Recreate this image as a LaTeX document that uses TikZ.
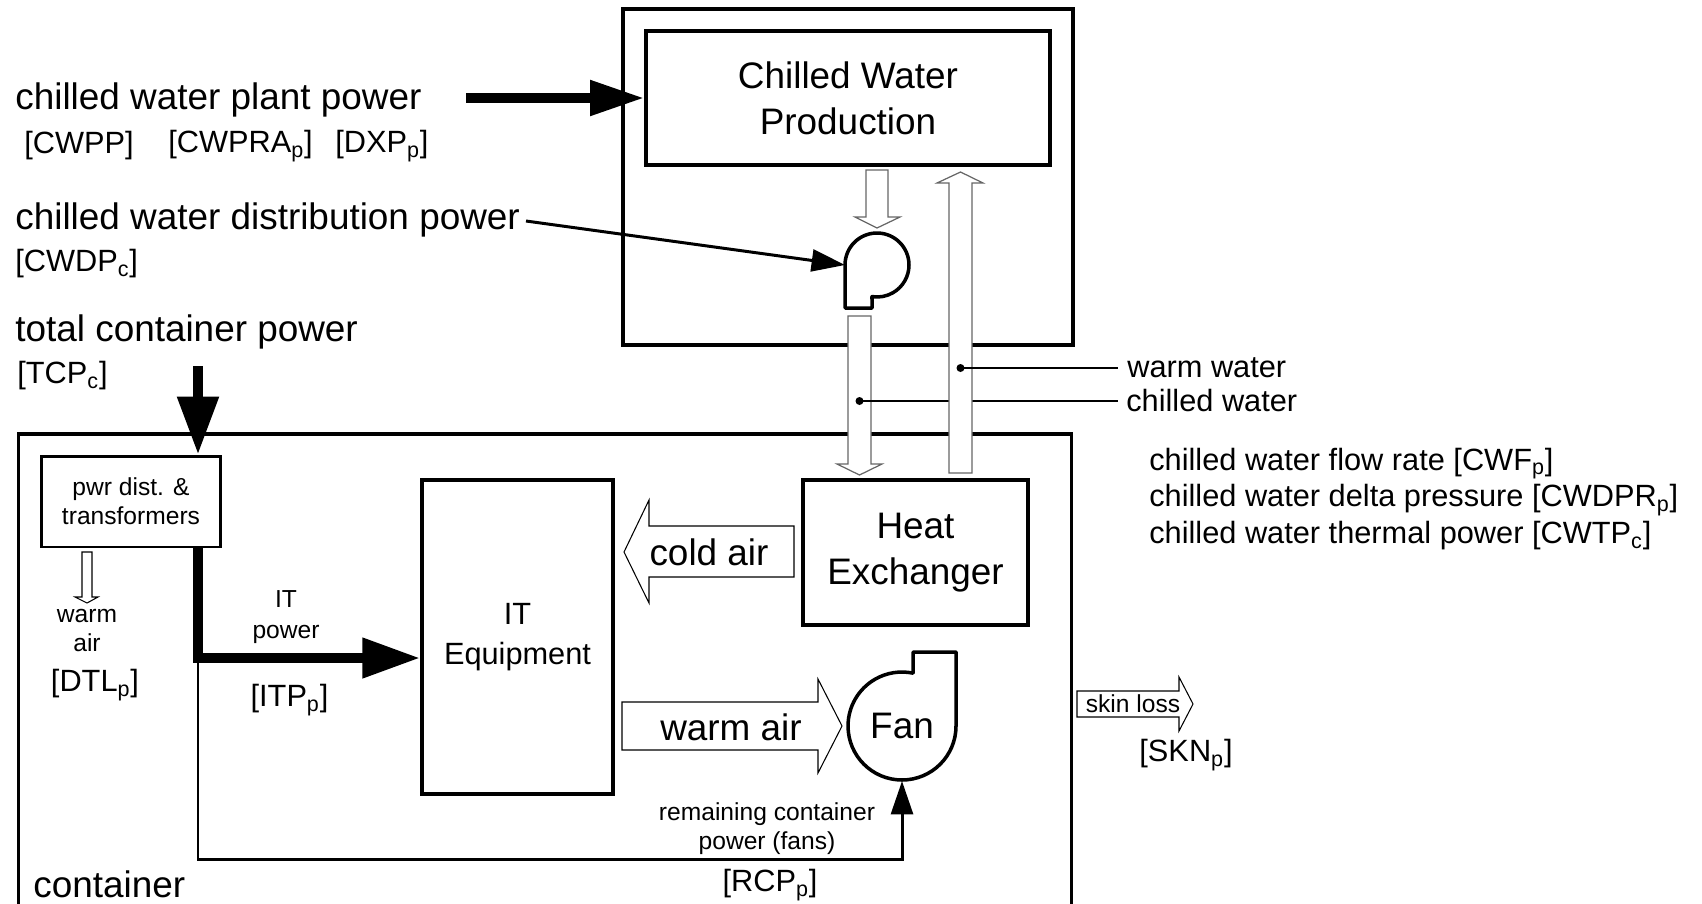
\documentclass[tikz,border=0pt]{standalone}
\usepackage{fontspec}
\setmainfont{Liberation Sans}
\usetikzlibrary{arrows.meta, positioning}

\begin{document}
\begin{tikzpicture}[
    x=0.02cm, y=-0.02cm,
    box/.style={rectangle, draw=black, line width=1.8pt, inner sep=0pt, text centered},
    bigtext/.style={font=\fontsize{21}{26}\selectfont, align=center, inner sep=0pt},
    midtext/.style={font=\fontsize{17.5}{21.3}\selectfont, align=left, inner sep=0pt},
    smalltext/.style={font=\fontsize{14}{16.5}\selectfont, align=center, inner sep=0pt},
    airflow/.style={draw=black, line width=0.6pt, fill=white},
    waterflow/.style={draw=black!60, line width=0.7pt, fill=white},
    fatarrow/.style={line width=5.7pt, -{Triangle[length=31pt, width=19pt]}},
    itarrow/.style={line width=6.2pt, line join=miter, -{Triangle[length=33pt, width=21.5pt]}},
    thinarrow/.style={line width=1.7pt, -{Triangle[length=19pt, width=12.5pt]}},
    leader/.style={line width=1pt},
    housing/.style={draw=black, line width=2pt, fill=white, line join=round}
]
\useasboundingbox (0,0) rectangle (1702,903);
\clip (0,0) rectangle (1702,903);

% Boxes
\node (plant) [box, minimum width=9cm, minimum height=6.72cm] at (848,177) {};
\node (cwp) [box, bigtext, minimum width=8.08cm, minimum height=2.68cm] at (848,98) {Chilled Water\\Production};
\node (container) [box, minimum width=21.08cm, minimum height=10.52cm] at (545,697) {};
\node (pdt) [box, smalltext, line width=1.7pt, minimum width=3.6cm, minimum height=1.82cm] at (131,501.5) {pwr dist. \&\\transformers};
\node (it) [box, font=\fontsize{17.5}{22.7}\selectfont, align=center, minimum width=3.82cm, minimum height=6.28cm] at (517.5,637) {IT\\Equipment};
\node (hx) [box, bigtext, minimum width=4.5cm, minimum height=2.9cm] at (915.5,552.5) {Heat\\Exchanger};

% Left labels
\node (cwpplbl) [bigtext, anchor=west] at (15,100) {chilled water plant power};
\node (cwppvar) [midtext, anchor=west] at (24,146) {[CWPP]};
\node (cwpravar) [midtext, anchor=west] at (168,146) {[CWPRA\textsubscript{p}]};
\node (dxpvar) [midtext, anchor=west] at (335,146) {[DXP\textsubscript{p}]};
\node (cwdplbl) [bigtext, anchor=west] at (15,220) {chilled water distribution power};
\node (cwdpvar) [midtext, anchor=west] at (15,264) {[CWDP\textsubscript{c}]};
\node (tcplbl) [bigtext, anchor=west] at (15,332) {total container power};
\node (tcpvar) [midtext, anchor=west] at (17,376) {[TCP\textsubscript{c}]};
\node (contlbl) [bigtext, anchor=west] at (33,884) {container};

% Pump and fan
\draw [housing] (845,308) -- (845,265) arc[start angle=180, end angle=-99, radius=0.64cm] -- (872,308) -- cycle;
\coordinate (pump) at (845,265);
\draw [housing] (913,673) -- (913,652) -- (956,652) -- (956,726) arc[start angle=0, end angle=-281.7, radius=1.08cm] -- cycle;
\node (fan) [bigtext] at (902,726) {Fan};
\coordinate (fanin) at (902,781);

% Water
\draw [waterflow] (877,228) -- (855,217) -- (866,217) -- (866,170) -- (888,170) -- (888,217) -- (900,217) -- cycle;
\draw [waterflow] (859.5,475) -- (837,464) -- (848,464) -- (848,316) -- (871,316) -- (871,464) -- (882,464) -- cycle;
\coordinate (cwdot) at (859.5,401);
\node (cwlbl) [midtext, anchor=west] at (1126,401) {chilled water};
\fill (cwdot) circle [radius=0.08cm];
\draw [leader] (cwdot) -- ([xshift=-4.5pt]cwlbl.west |- cwdot);
\draw [waterflow] (960.5,172) -- (937,183) -- (949,183) -- (949,473) -- (972,473) -- (972,183) -- (983,183) -- cycle;
\coordinate (wwdot) at (960.5,368);
\node (wwlbl) [midtext, anchor=west] at (1127,368) {warm water};
\fill (wwdot) circle [radius=0.08cm];
\draw [leader] (wwdot) -- ([xshift=-5pt]wwlbl.west |- wwdot);

\node (cwinfo) [midtext, anchor=west, font=\fontsize{17.5}{20.8}\selectfont] at (1149,499) {chilled water flow rate [CWF\textsubscript{p}]\\chilled water delta pressure [CWDPR\textsubscript{p}]\\chilled water thermal power [CWTP\textsubscript{c}]};

% Air
\draw [airflow] (624,552) -- (649,500) -- (649,526) -- (794,526) -- (794,577) -- (649,577) -- (649,603) -- cycle;
\node (coldair) [bigtext] at (709,552) {cold air};
\draw [airflow] (842,726) -- (818,679) -- (818,702) -- (622,702) -- (622,750) -- (818,750) -- (818,773) -- cycle;
\node (warmair) [bigtext] at (731,727) {warm air};
\draw [airflow] (87,603) -- (75,597) -- (82,597) -- (82,552) -- (92,552) -- (92,597) -- (98,597) -- cycle;
\node (dtlair) [smalltext] at (87,630) {warm\\air};
\node (dtlvar) [midtext] at (95,685) {[DTL\textsubscript{p}]};
\draw [airflow] (1193,704) -- (1179,677) -- (1179,691) -- (1077,691) -- (1077,717) -- (1179,717) -- (1179,731) -- cycle;
\node (skin) [smalltext] at (1133,704) {skin loss};
\node (sknvar) [midtext] at (1186,755) {[SKN\textsubscript{p}]};

% Power
\coordinate (cwppin) at (466,98);
\draw [fatarrow] (cwppin) -- (cwp.west);
\coordinate (cwdpout) at (526,221);
\draw [thinarrow] (cwdpout) -- (pump);
\coordinate (tcpin) at (198,366);
\draw [fatarrow, -{Triangle[length=33pt, width=22.5pt]}] (tcpin) -- (tcpin |- pdt.north);
\coordinate (itbend) at (198,658);
\draw [itarrow] (tcpin |- pdt.south) -- (itbend) -- (itbend -| it.west);
\node (itlbl) [smalltext, font=\fontsize{14}{18}\selectfont] at (286,617) {IT\\power};
\node (itpvar) [midtext] at (289.5,700) {[ITP\textsubscript{p}]};
\coordinate (rcpbend) at (198,859);
\draw [thinarrow] (itbend) -- (rcpbend) -| (fanin);
\node (rcplbl) [smalltext] at (767,828.5) {remaining container\\power (fans)};
\node (rcpvar) [midtext] at (770,885) {[RCP\textsubscript{p}]};

\end{tikzpicture}
\end{document}
